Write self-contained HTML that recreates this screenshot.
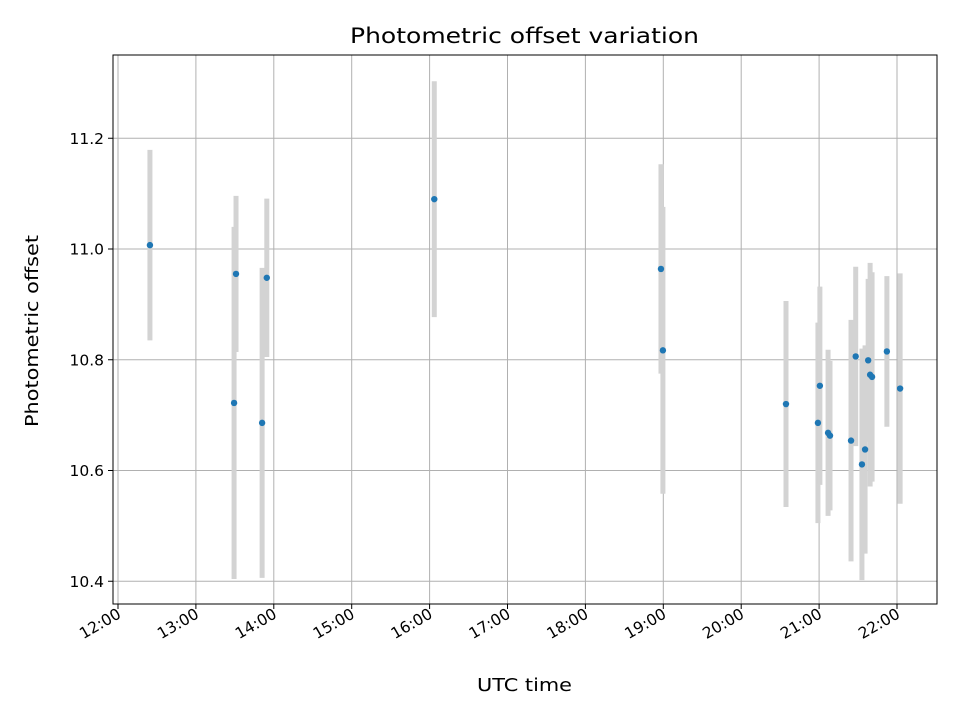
<!DOCTYPE html>
<html><head><meta charset="utf-8"><style>
body{margin:0;background:#fff;font-family:"DejaVu Sans","Liberation Sans",sans-serif}
svg text{font-family:"DejaVu Sans","Liberation Sans",sans-serif;fill:#000}
</style></head><body>
<svg id="c" width="960" height="720" viewBox="0 0 960 720"></svg>
<script>
const times=[12.41,13.49,13.515,13.85,13.91,16.06,18.97,18.995,20.575,20.985,21.01,21.115,21.14,21.41,21.47,21.55,21.59,21.63,21.655,21.68,21.87,22.04];
const offsets=[11.007,10.722,10.955,10.686,10.948,11.090,10.964,10.817,10.720,10.686,10.753,10.668,10.663,10.654,10.806,10.611,10.638,10.799,10.773,10.769,10.815,10.748];
const errors=[0.172,0.318,0.141,0.280,0.143,0.213,0.189,0.259,0.186,0.181,0.179,0.150,0.135,0.218,0.162,0.209,0.188,0.147,0.202,0.189,0.136,0.208];
const xTicks=[12,13,14,15,16,17,18,19,20,21,22];
const xTickLabels=["12:00","13:00","14:00","15:00","16:00","17:00","18:00","19:00","20:00","21:00","22:00"];
const yTicks=[10.4,10.6,10.8,11.0,11.2];
const yTickLabels=["10.4","10.6","10.8","11.0","11.2"];
const L=113,R=937,T=55,B=604;
const xs=h=>118+(h-12)*77.9;
const ys=v=>249+(11.0-v)*553.75;
const svg=document.getElementById('c');
const NS='http://www.w3.org/2000/svg';
function mk(tag,attrs,parent){const e=document.createElementNS(NS,tag);for(const k in attrs)e.setAttribute(k,attrs[k]);(parent||svg).appendChild(e);return e;}
xTicks.forEach((t,i)=>{const x=xs(t);
 const g=mk('line',{x1:x,x2:x,y1:T,y2:B,stroke:'#b0b0b0','stroke-width':1});
 
 
 const tk=mk('line',{x1:x,x2:x,y1:B,y2:B+5,stroke:'#000','stroke-width':1});
 
 
 const tx=mk('text',{x:x+4,y:B+13,'font-size':15.5,'text-anchor':'end',transform:`rotate(-30 ${x+4} ${B+13})`});
 tx.textContent=xTickLabels[i];
 
 
});
yTicks.forEach((t,i)=>{const y=ys(t);
 const g=mk('line',{x1:L,x2:R,y1:y,y2:y,stroke:'#b0b0b0','stroke-width':1});
 
 
 const tk=mk('line',{x1:L-5,x2:L,y1:y,y2:y,stroke:'#000','stroke-width':1});
 
 
 const tx=mk('text',{x:L-9,y:y+5.5,'font-size':15.5,'text-anchor':'end'});
 tx.textContent=yTickLabels[i];
 
 
});
times.forEach((t,i)=>{const x=xs(t);
 const e=mk('line',{x1:x,x2:x,y1:ys(offsets[i]+errors[i]),y2:ys(offsets[i]-errors[i]),stroke:'#d3d3d3','stroke-width':5});
 
 
});
times.forEach((t,i)=>{
 const p=mk('circle',{cx:xs(t),cy:ys(offsets[i]),r:3.2,fill:'#1f77b4'});
 
 
});
const fr=mk('rect',{x:L,y:T,width:R-L,height:B-T,fill:'none',stroke:'#000','stroke-width':1});


const ti=mk('text',{x:350,y:43,'font-size':21,textLength:349,lengthAdjust:'spacingAndGlyphs'});
ti.textContent='Photometric offset variation';


const xl=mk('text',{x:477,y:691,'font-size':18,textLength:95,lengthAdjust:'spacingAndGlyphs'});
xl.textContent='UTC time';


const yl=mk('text',{x:38,y:427,'font-size':18,textLength:192,lengthAdjust:'spacingAndGlyphs',transform:'rotate(-90 38 427)'});
yl.textContent='Photometric offset';


</script>
</body></html>
